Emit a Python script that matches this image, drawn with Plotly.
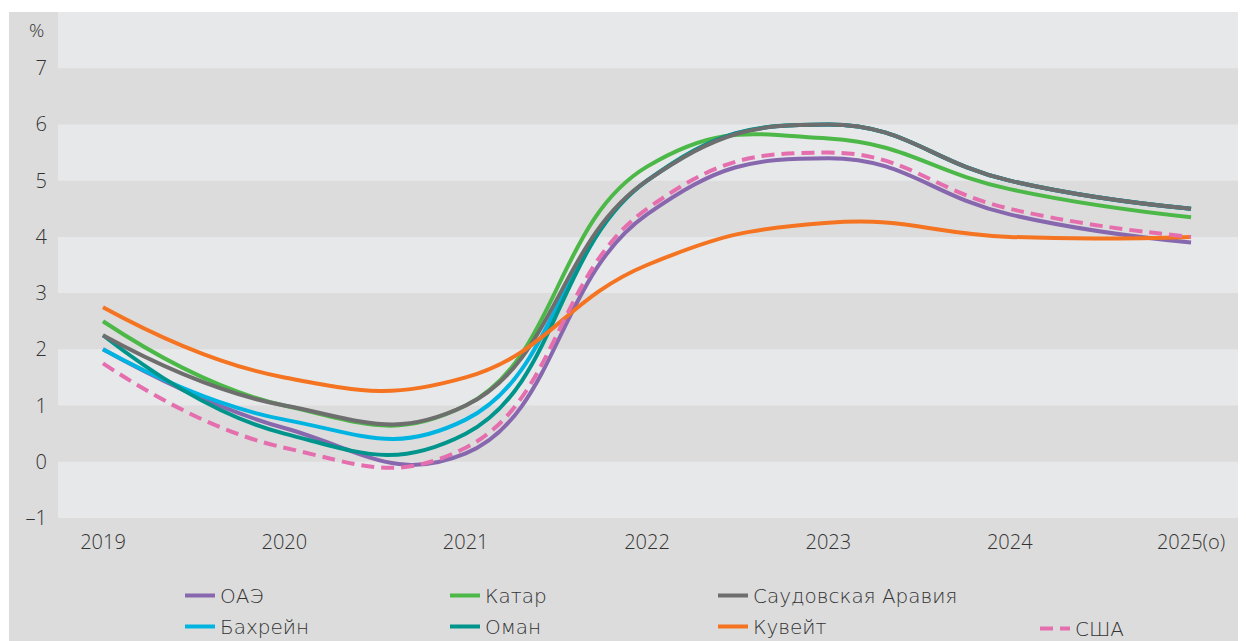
import plotly.graph_objects as go

years = [2019, 2020, 2021, 2022, 2023, 2024, 2025]
year_labels = ["2019", "2020", "2021", "2022", "2023", "2024", "2025(о)"]

uae = [2.0, 0.6, 0.15, 4.4, 5.4, 4.4, 3.9]
bahrain = [2.0, 0.75, 0.75, 5.0, 6.0, 5.0, 4.5]
qatar = [2.5, 1.0, 1.0, 5.25, 5.75, 4.85, 4.35]
oman = [2.25, 0.5, 0.5, 5.0, 6.0, 5.0, 4.5]
saudi = [2.25, 1.0, 1.0, 5.0, 6.0, 5.0, 4.5]
kuwait = [2.75, 1.5, 1.5, 3.5, 4.25, 4.0, 4.0]
usa = [1.75, 0.25, 0.25, 4.5, 5.5, 4.5, 4.0]

y_ticks = [-1, 0, 1, 2, 3, 4, 5, 6, 7]
y_labels = ["–1", "0", "1", "2", "3", "4", "5", "6", "7"]

# the page body keeps its default 8px margin, so the figure is 8px smaller
W, H = 1238, 633
L, R, T, B = 50, 0, 4, 123
PW, PH = W - L - R, H - T - B

FONT = "Open Sans"
LEG_FONT = "DejaVu Sans"
TXT = "#333333"
DARK = "#dcdcdc"
LIGHT = "#e7e8ea"

# (name, values, colour, dash, legend)
series = [
    ("ОАЭ", uae, "#8767ad", "solid", "legend"),
    ("Бахрейн", bahrain, "#00b4e1", "solid", "legend"),
    ("Катар", qatar, "#4cb848", "solid", "legend2"),
    ("Оман", oman, "#00958c", "solid", "legend2"),
    ("Саудовская Аравия", saudi, "#6e6e6e", "solid", "legend3"),
    ("Кувейт", kuwait, "#f47421", "solid", "legend3"),
    ("США", usa, "#e56fae", "13px,7px", "legend4"),
]

fig = go.Figure()
for name, vals, color, dash, leg in series:
    fig.add_trace(
        go.Scatter(
            x=years,
            y=vals,
            mode="lines",
            name=name,
            legend=leg,
            legendgroup=name,
            line=dict(color=color, width=4, dash=dash, shape="spline", smoothing=1.3),
            hoverinfo="skip",
        )
    )


def px_x(p):
    return (p - L) / PW


def px_y(p):
    return (H - B - p) / PH


shapes = [
    dict(type="rect", xref="paper", yref="paper", x0=px_x(1), x1=1, y0=px_y(H), y1=1,
         fillcolor=DARK, line_width=0, layer="below"),
]
for lo in [-1, 1, 3, 5, 7]:
    shapes.append(
        dict(type="rect", xref="paper", yref="y", x0=0, x1=1, y0=lo, y1=lo + 1,
             fillcolor=LIGHT, line_width=0, layer="below")
    )

legend_base = dict(
    orientation="v",
    bgcolor="rgba(0,0,0,0)",
    font=dict(family=LEG_FONT, size=20, color=TXT, weight=200),
    tracegroupgap=2,
    xanchor="left",
    yanchor="top",
    itemclick=False,
    itemdoubleclick=False,
)

fig.update_layout(
    width=W,
    height=H,
    margin=dict(l=L, r=R, t=T, b=B, autoexpand=False),
    paper_bgcolor="white",
    plot_bgcolor=DARK,
    font=dict(family=FONT, size=20, color=TXT, weight=300),
    shapes=shapes,
    showlegend=True,
    legend=dict(legend_base, x=px_x(172), y=px_y(568)),
    legend2=dict(legend_base, x=px_x(437), y=px_y(568)),
    legend3=dict(legend_base, x=px_x(705), y=px_y(568)),
    legend4=dict(legend_base, x=px_x(1027), y=px_y(601)),
    annotations=[
        dict(text="%", xref="paper", yref="paper", x=px_x(38), y=px_y(22),
             xanchor="right", yanchor="middle", showarrow=False,
             font=dict(family=FONT, size=19, color=TXT, weight=300)),
    ],
)

fig.update_xaxes(
    range=[2018.752, 2025.303],
    tickvals=years,
    ticktext=year_labels,
    showgrid=False,
    zeroline=False,
    showline=False,
    ticks="",
    ticklabelstandoff=10,
    tickfont=dict(family=FONT, size=20, color=TXT, weight=300),
)
fig.update_yaxes(
    range=[-1, 8],
    tickvals=y_ticks,
    ticktext=y_labels,
    showgrid=False,
    zeroline=False,
    showline=False,
    ticks="",
    ticklabelstandoff=10,
    tickfont=dict(family=FONT, size=20, color=TXT, weight=300),
)

fig.write_html("out.html")
